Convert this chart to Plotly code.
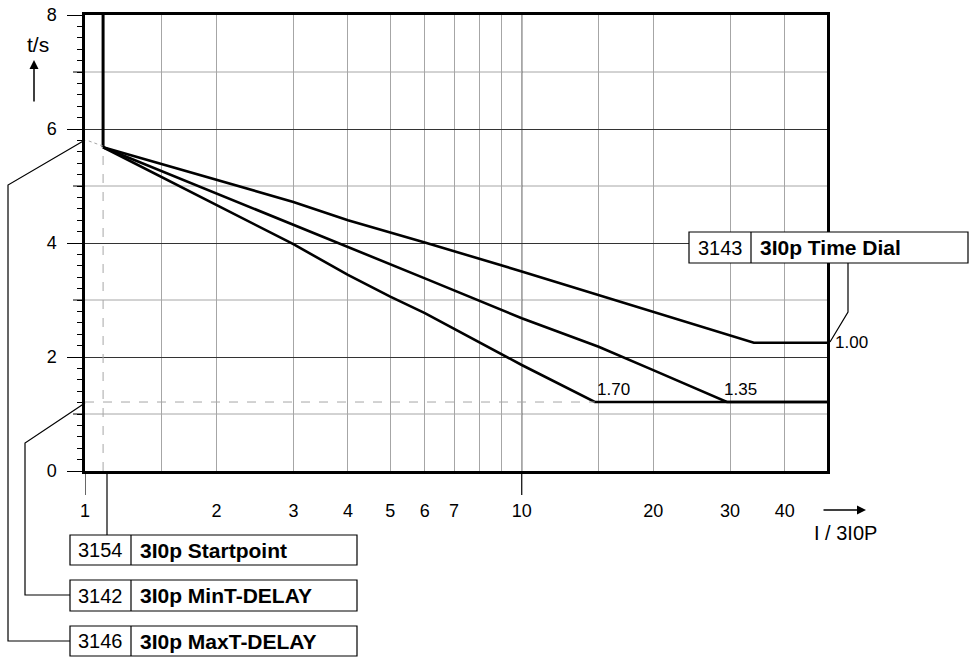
import math
import plotly.graph_objects as go

# ---------------- data ----------------
x_grid = [1, 1.5, 2, 3, 4, 5, 6, 7, 8, 9, 10, 15, 20, 30, 40]
x_tick_text = ["1", "", "2", "3", "4", "5", "6", "7", "", "", "10", "", "20", "30", "40"]
x_black = [10]
x_long_ticks = [1, 10]
y_major = [0, 2, 4, 6, 8]
y_odd = [1, 3, 5, 7]

i_start = 1.1          # 3154 3I0p Startpoint
t_start = 5.68
t_min = 1.21           # 3142 3I0p MinT-DELAY
t_max = 5.81           # 3146 3I0p MaxT-DELAY

curve_100_x = [1.1, 3, 4, 6, 10, 15, 20, 34, 50]
curve_100_t = [5.68, 4.72, 4.40, 4.01, 3.50, 3.09, 2.79, 2.25, 2.25]
curve_135_x = [1.1, 3, 4, 6, 10, 15, 20, 29.5, 50]
curve_135_t = [5.68, 4.32, 3.94, 3.38, 2.68, 2.18, 1.77, 1.21, 1.21]
curve_170_x = [1.1, 3, 4, 5, 6, 10, 14.7, 50]
curve_170_t = [5.68, 3.98, 3.44, 3.06, 2.77, 1.86, 1.21, 1.21]
dial_labels = ["1.00", "1.35", "1.70"]

# ---------------- layout helpers ----------------
W, H = 969, 657
L, R, T, B = 85, 827, 15, 471
def px(X):
    return (X - L) / (R - L)
def py(Y):
    return (B - Y) / (B - T)

FONT = "Liberation Sans, Arial, sans-serif"
GRAY = "#a6a6a6"
DARK = "#333333"

fig = go.Figure()

# vertical (infinite) part at start point
fig.add_trace(go.Scatter(x=[i_start, i_start], y=[8, t_start], mode="lines",
                         line=dict(color="black", width=3), hoverinfo="skip"))
for cx, ct in [(curve_100_x, curve_100_t), (curve_135_x, curve_135_t), (curve_170_x, curve_170_t)]:
    fig.add_trace(go.Scatter(x=cx, y=ct, mode="lines",
                             line=dict(color="black", width=2.6), hoverinfo="skip"))

shapes = []
# gray grid at odd t
for yv in y_odd:
    shapes.append(dict(type="line", xref="paper", yref="y", x0=0, x1=1, y0=yv, y1=yv,
                       line=dict(color=GRAY, width=1), layer="below"))
    shapes.append(dict(type="line", xref="paper", yref="y", x0=px(73), x1=0, y0=yv, y1=yv,
                       line=dict(color="black", width=1)))
# black vertical at 10
for xv in x_black:
    shapes.append(dict(type="line", xref="x", yref="paper", x0=xv, x1=xv, y0=0, y1=1,
                       line=dict(color=DARK, width=1.2), layer="below"))
for xv in x_long_ticks:
    shapes.append(dict(type="line", xref="x", yref="paper", x0=xv, x1=xv, y0=0, y1=py(495),
                       line=dict(color="black", width=1.2)))
# dashed helper lines
shapes.append(dict(type="line", xref="x", yref="y", x0=i_start, x1=i_start, y0=0, y1=5.55,
                   line=dict(color=GRAY, width=1, dash="dash")))
shapes.append(dict(type="line", xref="x", yref="y", x0=1, x1=curve_170_x[-2], y0=t_min, y1=t_min,
                   line=dict(color=GRAY, width=1, dash="dash")))
shapes.append(dict(type="line", xref="x", yref="y", x0=1.02, x1=i_start, y0=t_max - 0.02, y1=t_start + 0.02,
                   line=dict(color=GRAY, width=1, dash="dot")))

# leader lines (pixel paths)
def path(pts):
    return "M " + " L ".join(f"{px(a):.5f},{py(b):.5f}" for a, b in pts)
leaders = [
    [(107, 471), (107, 535)],
    [(85, 403), (25, 443), (25, 595), (70, 595)],
    [(85, 140), (8, 185), (8, 641), (70, 641)],
    [(848, 263), (848, 312), (830, 342)],
]
for pts in leaders:
    shapes.append(dict(type="path", xref="paper", yref="paper", path=path(pts),
                       line=dict(color="black", width=1.2)))

# parameter boxes
boxes = [
    (70, 357, 535, 565, 131, "3154", "3I0p Startpoint"),
    (70, 357, 580, 611, 131, "3142", "3I0p MinT-DELAY"),
    (70, 357, 626, 656, 131, "3146", "3I0p MaxT-DELAY"),
    (689, 968, 232, 263, 751, "3143", "3I0p Time Dial"),
]
annotations = []
for x0, x1, y0, y1, xd, num, name in boxes:
    shapes.append(dict(type="rect", xref="paper", yref="paper", x0=px(x0), x1=px(x1),
                       y0=py(y1), y1=py(y0), fillcolor="white",
                       line=dict(color="black", width=1.2), layer="above"))
    shapes.append(dict(type="line", xref="paper", yref="paper", x0=px(xd), x1=px(xd),
                       y0=py(y1), y1=py(y0), line=dict(color="black", width=1.2)))
    annotations.append(dict(xref="paper", yref="paper", x=px((x0 + xd) / 2), y=py((y0 + y1) / 2),
                            text=num, showarrow=False, xanchor="center", yanchor="middle",
                            font=dict(family=FONT, size=20, color="black")))
    annotations.append(dict(xref="paper", yref="paper", x=px(xd + 7), y=py((y0 + y1) / 2),
                            text="<b>" + name + "</b>", showarrow=False, xanchor="left", yanchor="middle",
                            font=dict(family=FONT, size=21, color="black")))

# curve labels
annotations.append(dict(xref="x", yref="y", x=math.log10(curve_100_x[-1]), y=curve_100_t[-1],
                        text=dial_labels[0], showarrow=False, xanchor="left", yanchor="middle",
                        xshift=6, font=dict(family=FONT, size=17, color="black")))
annotations.append(dict(xref="x", yref="y", x=math.log10(curve_135_x[-2]), y=curve_135_t[-2],
                        text=dial_labels[1], showarrow=False, xanchor="left", yanchor="bottom",
                        xshift=-5, yshift=1, font=dict(family=FONT, size=17, color="black")))
annotations.append(dict(xref="x", yref="y", x=math.log10(curve_170_x[-2]), y=curve_170_t[-2],
                        text=dial_labels[2], showarrow=False, xanchor="left", yanchor="bottom",
                        xshift=0, yshift=1, font=dict(family=FONT, size=17, color="black")))

# axis titles and arrows
annotations.append(dict(xref="paper", yref="paper", x=px(38), y=py(44), text="t/s", showarrow=False,
                        xanchor="center", yanchor="middle", font=dict(family=FONT, size=21, color="black")))
annotations.append(dict(xref="paper", yref="paper", x=px(34), y=py(60), ax=0, ay=43, text="",
                        showarrow=True, arrowhead=2, arrowsize=1.2, arrowwidth=1.5, arrowcolor="black"))
annotations.append(dict(xref="paper", yref="paper", x=px(866), y=py(510), ax=-44, ay=0, text="",
                        showarrow=True, arrowhead=2, arrowsize=1.2, arrowwidth=1.5, arrowcolor="black"))
annotations.append(dict(xref="paper", yref="paper", x=px(845), y=py(533), text="I / 3I0P", showarrow=False,
                        xanchor="center", yanchor="middle", font=dict(family=FONT, size=20, color="black")))

fig.update_layout(
    width=W, height=H,
    margin=dict(l=L, r=W - R, t=T, b=H - B, pad=0, autoexpand=False),
    paper_bgcolor="white", plot_bgcolor="white",
    showlegend=False,
    font=dict(family=FONT, size=18, color="black"),
    shapes=shapes, annotations=annotations,
    xaxis=dict(type="log", range=[0, math.log10(50)], tickvals=x_grid, ticktext=x_tick_text,
               showgrid=True, gridcolor=GRAY, gridwidth=1, ticks="", ticklabelstandoff=22,
               automargin=False,
               showline=True, linewidth=2.5, linecolor="black", mirror=True, zeroline=False,
               tickfont=dict(family=FONT, size=18, color="black")),
    yaxis=dict(range=[0, 8], tickvals=y_major, ticktext=[str(v) for v in y_major],
               showgrid=True, gridcolor=DARK, gridwidth=1, ticks="outside", ticklen=15,
               tickwidth=1, tickcolor="black", ticklabelstandoff=7, automargin=False,
               minor=dict(dtick=0.2, tick0=0, ticks="outside", ticklen=5, tickcolor="black",
                          tickwidth=1, showgrid=False),
               showline=True, linewidth=2.5, linecolor="black", mirror=True, zeroline=False,
               tickfont=dict(family=FONT, size=18, color="black")),
)

fig.write_html("out.html", config={"displayModeBar": False},
               post_script="document.body.style.margin='0';document.body.style.overflow='hidden';")
